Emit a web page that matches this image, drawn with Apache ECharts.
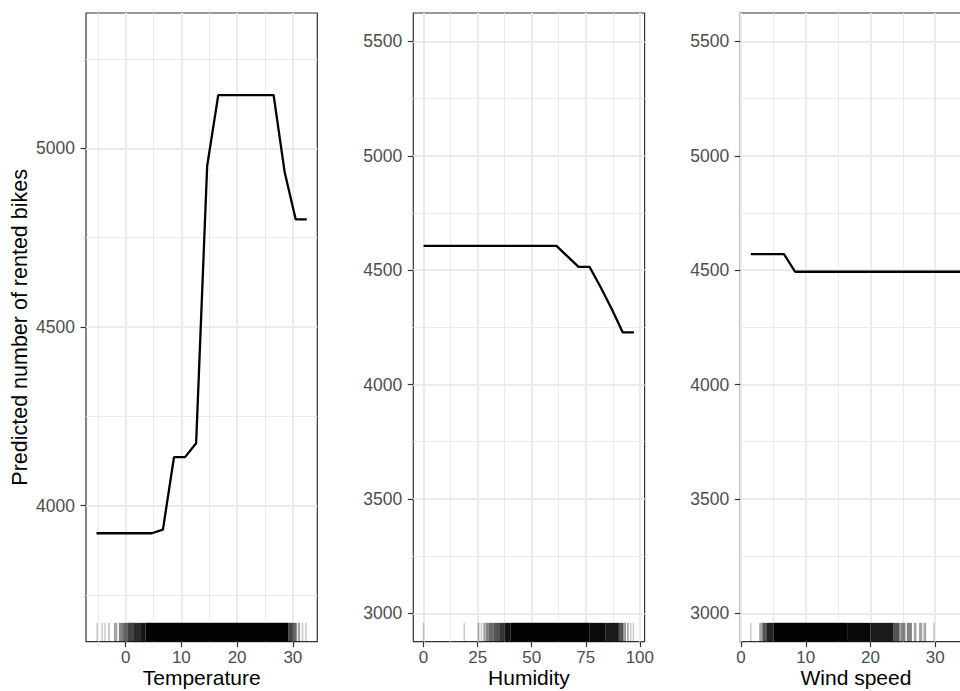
<!DOCTYPE html>
<html>
<head>
<meta charset="utf-8">
<script src="https://cdn.jsdelivr.net/npm/echarts@6/dist/echarts.min.js"></script>
<style>
html,body{margin:0;padding:0;background:#fff;}
#chart{width:960px;height:691px;}
</style>
</head>
<body>
<div id="chart"></div>
<script>
// ---- Data ----
const panelTitles = ['Temperature', 'Humidity', 'Wind speed'];
const yTitle = 'Predicted number of rented bikes';

const tempX = [-5.22, -3.24, -1.25, 0.73, 2.72, 4.71, 6.69, 8.68, 10.66, 12.65, 14.63, 16.62, 18.61, 20.59, 22.58, 24.56, 26.55, 28.53, 30.52, 32.50];
const tempY = [3923, 3923, 3923, 3923, 3923, 3923, 3933, 4136, 4136, 4175, 4951, 5149, 5149, 5149, 5149, 5149, 5149, 4934, 4801, 4801];

const humX = [0, 5.12, 10.24, 15.36, 20.47, 25.59, 30.71, 35.83, 40.95, 46.07, 51.18, 56.30, 61.42, 66.54, 71.66, 76.78, 81.89, 87.01, 92.13, 97.25];
const humY = [4606, 4606, 4606, 4606, 4606, 4606, 4606, 4606, 4606, 4606, 4606, 4606, 4606, 4560, 4514, 4514, 4425, 4330, 4228, 4228];

const windX = [1.50, 3.21, 4.92, 6.63, 8.34, 10.05, 11.76, 13.47, 15.18, 16.89, 18.61, 20.32, 22.03, 23.74, 25.45, 27.16, 28.87, 30.58, 32.29, 34.00];
const windY = [4570, 4570, 4570, 4570, 4493, 4493, 4493, 4493, 4493, 4493, 4493, 4493, 4493, 4493, 4493, 4493, 4493, 4493, 4493, 4493];

// rug: [from, to, number of observations]
const rugTemp = [[-5.2,-5.0,1],[-4.3,-4.1,1],[-3.8,-3.6,1],[-3.2,-2.8,1],[-2.1,-1.5,2],[-1.2,-0.6,3],[-0.6,0.3,4],[0.3,1.5,6],[1.5,2.6,8],[2.6,3.6,11],[3.6,29.2,20],[29.2,30.0,6],[30.0,30.7,4],[30.9,31.3,2],[31.6,31.9,1],[32.2,32.5,1]];
const rugHum = [[0,0,1],[18.8,18.8,1],[25.4,25.4,2],[26.5,27,1],[27.6,28.4,2],[28.6,30.2,3],[30.2,32.5,4],[32.5,35,5],[35,37.5,7],[37.5,40.3,12],[40.3,76.6,20],[76.6,84,14],[84,90.3,10],[90.3,92.5,5],[92.8,93.5,3],[94.2,94.8,2],[95.6,96.0,1],[96.8,97.25,1]];
const rugWind = [[1.5,1.5,1],[2.8,3.3,2],[3.3,4.0,5],[4.0,5.0,9],[5.0,16.5,20],[16.5,20.0,15],[20.0,23.5,10],[23.5,24.5,5],[24.6,25.4,3],[25.6,26.4,3],[26.7,27.1,2],[27.5,28.0,2],[28.2,28.6,2],[29.8,29.8,1],[34.0,34.0,1]];

// tick labels
const tempTicks = [0, 10, 20, 30];
const tempMinor = [-5, 5, 15, 25];
const humTicks = [0, 25, 50, 75, 100];
const humMinor = [12.5, 37.5, 62.5, 87.5];
const windTicks = [0, 10, 20, 30];
const windMinor = [5, 15, 25, 35];
const yTicks1 = [4000, 4500, 5000];
const yMinor1 = [3750, 4250, 4750, 5250];
const yTicks23 = [3000, 3500, 4000, 4500, 5000, 5500];
const yMinor23 = [3250, 3750, 4250, 4750, 5250];

// ---- Layout ----
const FONT = "'Liberation Sans', Arial, sans-serif";
const xRanges = [[-7.11, 34.39], [-4.75, 102.2], [-0.125, 35.625]];
const yRanges = [[3619.5, 5378.6], [2876, 5624], [2876, 5624]];
const lefts = [86, 413.3, 740.3];
const W = 231.3, TOP = 13, H = 628.7;

const chart = echarts.init(document.getElementById('chart'), null, {renderer: 'svg'});

const grids = [], xAxes = [], yAxes = [], series = [];
const lineX = [tempX, humX, windX], lineY = [tempY, humY, windY];
const rugs = [rugTemp, rugHum, rugWind];
const xMaj = [tempTicks, humTicks, windTicks], xMin = [tempMinor, humMinor, windMinor];
const yMaj = [yTicks1, yTicks23, yTicks23], yMin = [yMinor1, yMinor23, yMinor23];
const fmt = v => String(v);

for (let i = 0; i < 3; i++) {
  grids.push({left: lefts[i], top: TOP, width: W, height: H, show: true,
    outerBoundsMode: 'none',
    borderColor: '#333333', borderWidth: 1.2, backgroundColor: 'transparent', containLabel: false});
  // minor grid axes
  xAxes.push({type: 'value', gridIndex: i, position: 'bottom', min: xRanges[i][0], max: xRanges[i][1],
    axisLine: {show: false, onZero: false}, axisLabel: {show: false},
    axisTick: {show: false, customValues: xMin[i]},
    splitLine: {show: true, lineStyle: {color: '#EBEBEB', width: 1}}});
  yAxes.push({type: 'value', gridIndex: i, position: 'left', min: yRanges[i][0], max: yRanges[i][1],
    axisLine: {show: false, onZero: false}, axisLabel: {show: false},
    axisTick: {show: false, customValues: yMin[i]},
    splitLine: {show: true, lineStyle: {color: '#EBEBEB', width: 1}}});
}
for (let i = 0; i < 3; i++) {
  // major axes
  xAxes.push({type: 'value', gridIndex: i, position: 'bottom', min: xRanges[i][0], max: xRanges[i][1],
    name: panelTitles[i], nameLocation: 'middle', nameGap: 25.5, nameMoveOverlap: false,
    nameTextStyle: {fontSize: 21, color: '#000', fontFamily: FONT, lineHeight: 21},
    axisLine: {show: false, onZero: false},
    axisTick: {show: true, inside: false, length: 5.5, customValues: xMaj[i], lineStyle: {color: '#333333', width: 1.2}},
    axisLabel: {customValues: xMaj[i], formatter: fmt, margin: 7, fontSize: 17, lineHeight: 17, color: '#4D4D4D', fontFamily: FONT},
    splitLine: {show: true, lineStyle: {color: '#EBEBEB', width: 2}}});
  yAxes.push({type: 'value', gridIndex: i, position: 'left', min: yRanges[i][0], max: yRanges[i][1],
    name: i === 0 ? yTitle : '', nameLocation: 'middle', nameGap: 55,
    nameTextStyle: {fontSize: 21.5, color: '#000', fontFamily: FONT},
    axisLine: {show: false, onZero: false},
    axisTick: {show: true, inside: false, length: 5.5, customValues: yMaj[i], lineStyle: {color: '#333333', width: 1.2}},
    axisLabel: {customValues: yMaj[i], formatter: fmt, margin: 11, fontSize: 17.5, color: '#4D4D4D', fontFamily: FONT},
    splitLine: {show: true, lineStyle: {color: '#EBEBEB', width: 2}}});
}

for (let i = 0; i < 3; i++) {
  const ax = 3 + i;
  series.push({
    type: 'custom', xAxisIndex: ax, yAxisIndex: ax, silent: true, z: 3,
    data: rugs[i],
    encode: {x: [0, 1], y: 2},
    renderItem: function (params, api) {
      const cs = params.coordSys;
      const x0 = api.coord([api.value(0), yRanges[i][0]])[0];
      const x1 = api.coord([api.value(1), yRanges[i][0]])[0];
      const w = Math.max(x1 - x0, 1.6);
      const cx = (x0 + x1) / 2;
      const h = cs.height * 0.03;
      const bottom = cs.y + cs.height;
      return {type: 'rect', shape: {x: cx - w / 2, y: bottom - h, width: w, height: h},
        style: {fill: '#000', opacity: 1 - Math.pow(0.8, api.value(2))}};
    }
  });
  series.push({
    type: 'line', xAxisIndex: ax, yAxisIndex: ax, z: 4,
    data: lineX[i].map((x, k) => [x, lineY[i][k]]),
    showSymbol: false, symbol: 'none', animation: false,
    lineStyle: {color: '#000', width: 2.3}
  });
}

chart.setOption({
  animation: false,
  textStyle: {fontFamily: FONT},
  grid: grids, xAxis: xAxes, yAxis: yAxes, series: series
});
</script>
</body>
</html>
